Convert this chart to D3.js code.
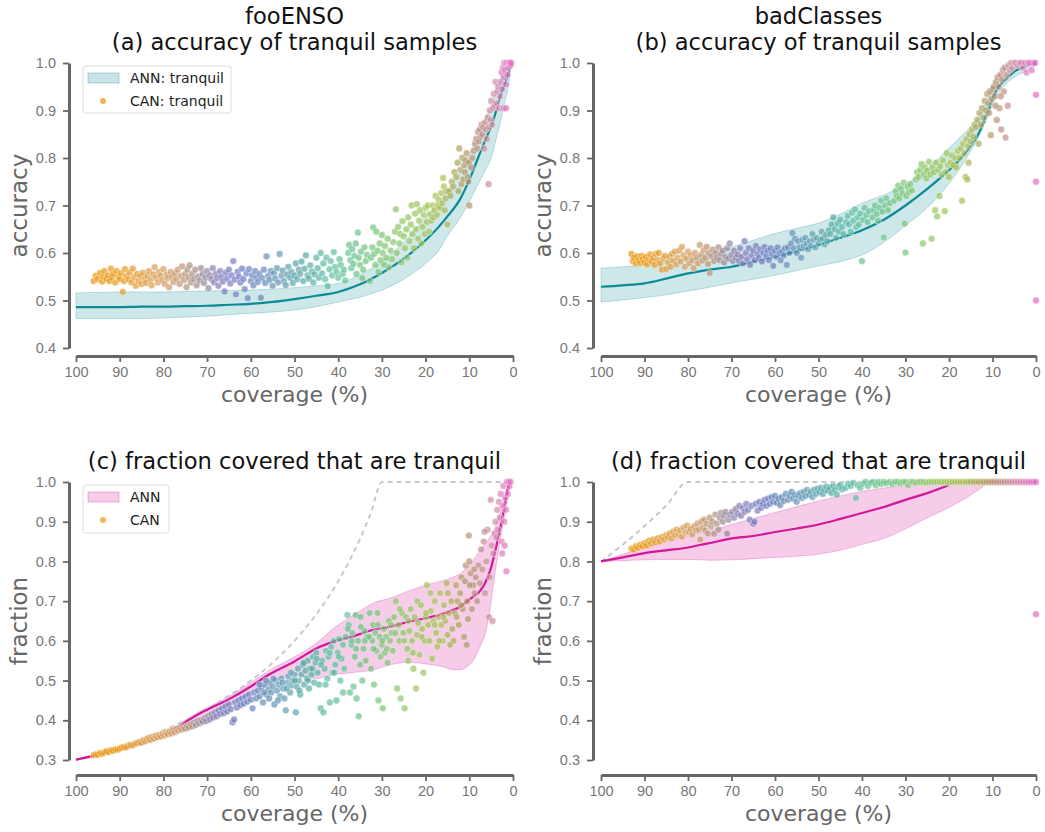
<!DOCTYPE html>
<html>
<head>
<meta charset="utf-8">
<script src="https://cdn.jsdelivr.net/npm/d3@7"></script>
<style>
body { margin: 0; background: #fff; }
svg { display: block; }
</style>
</head>
<body>
<svg id="chart" width="1045" height="832"></svg>
<script>
// coverage ticks and y ticks
const xTicks = [100, 90, 80, 70, 60, 50, 40, 30, 20, 10, 0];
const yTicksAcc = [0.4, 0.5, 0.6, 0.7, 0.8, 0.9, 1.0];
const yTicksFrac = [0.3, 0.4, 0.5, 0.6, 0.7, 0.8, 0.9, 1.0];

// point colour by coverage
const colorCov = [100, 90, 80, 75, 72, 67, 62, 57, 52, 47, 42, 37, 32, 27, 22, 17, 13, 10, 7, 4, 1, 0];
const colorHex = ["#e8900c", "#e8960f", "#d49a58", "#b89070", "#9a8890", "#7c78b8", "#6a78c0", "#5f88b5",
  "#5a9cb0", "#50aaa0", "#58bca0", "#62c08a", "#70c278", "#84c468", "#96c458", "#a6c050", "#a8a458",
  "#b09068", "#c08c88", "#d088a8", "#e070c0", "#e068c0"];

// ANN bands: [coverage, lower, mean, upper]
const bandA = [[100,0.462,0.486,0.516],[95,0.462,0.486,0.517],[90,0.462,0.486,0.518],[85,0.462,0.487,0.518],
  [80,0.463,0.487,0.518],[75,0.465,0.488,0.519],[70,0.467,0.489,0.52],[65,0.47,0.491,0.521],[60,0.473,0.493,0.522],
  [55,0.476,0.497,0.524],[50,0.48,0.503,0.527],[45,0.487,0.51,0.531],[40,0.497,0.518,0.536],[35,0.507,0.534,0.555],
  [30,0.522,0.558,0.582],[25,0.545,0.588,0.623],[20,0.578,0.627,0.675],[17,0.605,0.655,0.705],[15,0.636,0.677,0.73],
  [12,0.675,0.715,0.77],[10,0.708,0.754,0.805],[8,0.745,0.8,0.85],[6,0.78,0.845,0.89],[5,0.8,0.866,0.91],
  [4,0.835,0.895,0.935],[3,0.87,0.928,0.96],[2,0.915,0.955,0.985],[1,0.955,0.979,1.0],[0.7,0.975,0.99,1.0]];
const bandB = [[100,0.497,0.529,0.568],[95,0.501,0.532,0.571],[90,0.506,0.536,0.575],[85,0.512,0.546,0.582],
  [80,0.52,0.557,0.59],[75,0.528,0.565,0.6],[70,0.537,0.571,0.612],[65,0.545,0.582,0.627],[60,0.553,0.592,0.641],
  [55,0.563,0.604,0.652],[50,0.573,0.617,0.663],[45,0.582,0.632,0.682],[40,0.596,0.648,0.705],[35,0.622,0.67,0.722],
  [30,0.658,0.7,0.745],[25,0.695,0.735,0.778],[21,0.735,0.766,0.812],[17,0.785,0.802,0.848],[15,0.815,0.825,0.866],
  [13,0.848,0.855,0.89],[11,0.888,0.9,0.928],[9,0.932,0.945,0.958],[7,0.955,0.965,0.977],[5,0.97,0.982,0.99],
  [2,0.985,0.995,0.998],[0,0.996,1.0,1.0]];
const bandC = [[100,0.3,0.301,0.302],[90,0.323,0.326,0.329],[80,0.357,0.362,0.367],[72,0.405,0.415,0.42],
  [64,0.445,0.459,0.466],[60,0.47,0.485,0.495],[56,0.49,0.514,0.524],[50,0.515,0.548,0.56],[45,0.505,0.581,0.594],
  [41,0.515,0.598,0.632],[37,0.52,0.61,0.661],[32,0.527,0.628,0.695],[28,0.54,0.636,0.708],[24,0.546,0.648,0.725],
  [20,0.542,0.657,0.74],[16,0.535,0.668,0.752],[13.6,0.527,0.678,0.761],[12,0.527,0.686,0.77],[10.6,0.535,0.699,0.785],
  [9,0.552,0.712,0.805],[8,0.575,0.72,0.82],[6,0.635,0.755,0.85],[5,0.7,0.785,0.865],[4,0.78,0.83,0.89],
  [3,0.85,0.879,0.92],[2,0.91,0.935,0.955],[1.1,0.965,0.988,0.995],[0.5,1.0,1.0,1.0]];
const bandD = [[100,0.8,0.8,0.8],[95,0.802,0.81,0.818],[90,0.804,0.821,0.835],[85,0.805,0.828,0.85],
  [80,0.805,0.835,0.865],[77,0.804,0.842,0.873],[75,0.803,0.846,0.878],[70,0.804,0.858,0.893],[65,0.807,0.864,0.908],
  [60,0.81,0.874,0.923],[55,0.813,0.883,0.938],[50,0.818,0.893,0.952],[45,0.828,0.907,0.965],[40,0.843,0.922,0.976],
  [35,0.858,0.937,0.985],[30,0.882,0.955,0.991],[25,0.91,0.972,0.996],[21,0.93,0.988,0.999],[18.5,0.945,1.0,1.0],
  [16,0.96,1.0,1.0],[14,0.975,1.0,1.0],[12,0.99,1.0,1.0],[11,1.0,1.0,1.0],[0,1.0,1.0,1.0]];

// dashed reference curves: [coverage, fraction]
const idealC = [[100,0.3],[95,0.316],[90,0.333],[85,0.353],[80,0.375],[75,0.4],[70,0.429],[65,0.462],[60,0.5],
  [55,0.545],[50,0.6],[47.5,0.632],[45,0.667],[42.5,0.706],[40,0.75],[37.5,0.8],[35,0.857],[32.5,0.923],[30,1.0],[0,1.0]];
const idealD = [[100,0.8],[95,0.842],[90,0.889],[85,0.941],[80,1.0],[0,1.0]];

// CAN points: [coverage, value]
const pointsA = [[96,0.541],[95.5,0.552],[95,0.545],[94.5,0.558],[94,0.54],[93.8,0.55],[93.5,0.562],[93,0.545],
  [92.7,0.553],[92.3,0.541],[92,0.567],[91.8,0.548],[91.5,0.556],[91,0.538],[90.7,0.562],[90.3,0.55],[90,0.545],
  [89.7,0.557],[89.3,0.518],[89,0.541],[88.8,0.566],[88.5,0.552],[88,0.545],[87.7,0.559],[87.3,0.538],[87,0.567],
  [86.7,0.549],[86.3,0.531],[86,0.556],[85.7,0.541],[85.3,0.552],[85,0.535],
  [84.7,0.558],[84.3,0.545],[84,0.537],[83.7,0.552],[83.3,0.562],[83,0.543],[82.7,0.532],[82.3,0.555],[82,0.57],
  [81.7,0.548],[81.3,0.538],[81,0.56],[80.7,0.552],[80.3,0.543],[80,0.566],[79.7,0.535],[79.3,0.555],[79,0.547],
  [78.7,0.528],[78.3,0.56],[78,0.55],[77.7,0.539],[77.3,0.557],[77,0.545],[76.7,0.565],[76.3,0.535],[76,0.552],
  [75.7,0.572],[75.3,0.543],[75,0.556],
  [74.7,0.528],[74.5,0.565],[74.2,0.548],[74,0.574],[73.7,0.538],[73.4,0.556],[73,0.545],[72.7,0.565],[72.4,0.532],
  [72,0.551],[71.7,0.542],[71.4,0.568],[71,0.556],[70.7,0.537],[70.4,0.548],[70,0.562],
  [69.7,0.526],[69.4,0.553],[69,0.545],[68.7,0.568],[68.4,0.538],[68,0.556],[67.7,0.547],[67.4,0.531],[67,0.562],
  [66.7,0.55],[66.4,0.54],[66,0.519],[65.7,0.558],[65.4,0.546],[65,0.565],[64.7,0.536],[64.4,0.553],[64,0.583],
  [63.7,0.544],[63.4,0.513],[63,0.56],[62.7,0.55],[62.4,0.538],[62,0.567],
  [61.7,0.545],[61.4,0.524],[61,0.557],[60.7,0.505],[60.4,0.566],[60,0.541],[59.7,0.553],[59.4,0.532],[59,0.562],
  [58.7,0.548],[58.4,0.539],[58,0.556],[57.7,0.506],[57.4,0.547],[57,0.565],[56.7,0.537],[56.4,0.593],[56,0.552],
  [55.7,0.543],[55.4,0.562],[55,0.531],
  [54.7,0.557],[54.4,0.546],[54,0.568],[53.7,0.538],[53.4,0.598],[53,0.552],[52.7,0.563],[52.4,0.541],[52,0.532],
  [51.7,0.555],[51.4,0.571],[51,0.548],[50.7,0.56],[50.4,0.537],[50,0.553],[49.7,0.578],[49.4,0.545],[49,0.565],
  [48.7,0.556],[48.4,0.582],[48,0.541],[47.7,0.567],[47.4,0.595],[47,0.553],[46.7,0.546],[46.4,0.574],[46,0.561],
  [45.7,0.538],[45.4,0.555],[45,0.59],
  [44.7,0.568],[44.4,0.548],[44,0.6],[43.7,0.557],[43.4,0.578],[43,0.545],[42.7,0.59],[42.4,0.53],[42,0.566],
  [41.7,0.583],[41.4,0.553],[41,0.602],[40.7,0.571],[40.4,0.56],[40,0.548],[39.7,0.587],[39.4,0.575],[39,0.556],
  [38.7,0.565],[38.4,0.542],
  [37.7,0.6],[37.5,0.617],[37.2,0.585],[37,0.568],[36.8,0.608],[36.5,0.577],[36.3,0.594],[36,0.62],[35.8,0.556],
  [35.5,0.643],[35.3,0.59],[35,0.575],[34.8,0.603],[34.5,0.547],[34.3,0.565],[34,0.612],[33.7,0.583],[33.4,0.596],
  [32.7,0.541],[32.5,0.59],[32.2,0.612],[32,0.654],[31.8,0.598],[31.5,0.575],[31.3,0.645],[31,0.605],[30.8,0.56],
  [30.5,0.62],[30.3,0.585],[30,0.638],[29.8,0.6],[29.5,0.575],[29.3,0.615],[29,0.59],[28.7,0.63],[28.4,0.57],
  [28,0.605],[27.7,0.587],[27.4,0.623],[27,0.645],
  [26.8,0.692],[26.6,0.6],[26.3,0.655],[26,0.62],[25.8,0.64],[25.5,0.58],[25.3,0.667],[25,0.635],[24.7,0.61],
  [24.4,0.65],[24.2,0.59],[24,0.675],[23.7,0.625],[23.4,0.66],[23.2,0.7],[23,0.64],[22.7,0.61],[22.4,0.683],
  [22.2,0.65],[22,0.703],[21.7,0.63],[21.5,0.668],[21.3,0.69],[21,0.62],[20.7,0.655],[20.4,0.68],[20.2,0.64],[20,0.695],
  [19.7,0.665],[19.5,0.7],[19.2,0.645],[19,0.682],[18.7,0.668],[18.4,0.7],[18.2,0.675],[18,0.69],[17.7,0.72],
  [17.4,0.68],[17.2,0.7],[17,0.712],[16.7,0.695],[16.4,0.726],[16.2,0.705],[16,0.758],[15.8,0.74],[15.6,0.69],
  [15.4,0.715],[15.2,0.73],[15,0.66],
  [14.6,0.73],[14.3,0.72],[14,0.75],[13.7,0.74],[13.4,0.77],[13,0.76],[12.7,0.79],[12.5,0.73],[12.3,0.82],[12,0.775],
  [11.8,0.745],[11.6,0.8],[11.4,0.755],[11.2,0.785],[11,0.77],[10.8,0.795],[10.6,0.81],[10.4,0.76],[10.2,0.75],
  [10,0.7],[10.1,0.79],
  [9.6,0.78],[9.3,0.8],[9,0.815],[8.7,0.83],[8.4,0.84],[8.2,0.82],[8,0.855],[7.8,0.835],[7.6,0.86],[7.4,0.845],
  [7.2,0.87],[7,0.85],[6.8,0.865],[6.6,0.82],[6.4,0.875],[6.2,0.86],[6,0.84],[5.8,0.885],[5.6,0.745],[5.5,0.865],
  [5.3,0.9],[5.1,0.88],[5,0.92],[4.8,0.87],[4.6,0.905],[4.4,0.935],[4.2,0.91],[4,0.96],[3.8,0.915],[3.6,0.94],
  [3.4,0.95],[3.2,0.905],[3,0.93],
  [2.8,0.96],[2.6,0.98],[2.5,0.945],[2.3,0.99],[2.1,0.97],[2,1.0],[1.8,0.985],[1.6,0.955],[1.5,1.0],[1.3,0.975],
  [1.1,0.99],[1,1.0],[0.8,1.0],[0.6,0.995],[0.4,1.0],[2.2,0.905],[1.6,0.905]];

const pointsB = [[93,0.598],[92.7,0.583],[92.4,0.59],[92,0.578],[91.7,0.593],[91.4,0.585],[91,0.579],[90.7,0.594],
  [90.4,0.587],[90,0.58],[89.7,0.592],[89.4,0.576],[89,0.586],[88.7,0.597],[88.4,0.582],[88,0.59],[87.7,0.575],
  [87.4,0.598],[87,0.585],[86.7,0.6],[86.4,0.578],[86,0.565],[85.7,0.588],[85.3,0.594],[85,0.566],
  [84.6,0.58],[84.3,0.592],[84,0.571],[83.7,0.598],[83.4,0.584],[83,0.603],[82.7,0.576],[82.4,0.59],[82,0.605],
  [81.7,0.582],[81.4,0.613],[81,0.595],[80.7,0.571],[80.4,0.588],[80,0.603],[79.7,0.578],[79.4,0.596],[79,0.585],
  [78.7,0.568],[78.4,0.6],[78,0.59],[77.7,0.578],[77.3,0.617],[77,0.596],[76.7,0.584],[76.4,0.606],[76,0.59],
  [75.7,0.613],[75.4,0.577],[75,0.558],[75.2,0.6],
  [74.6,0.593],[74.3,0.607],[74,0.583],[73.7,0.6],[73.4,0.59],[73,0.612],[72.7,0.585],[72.4,0.598],[72,0.605],
  [71.7,0.58],[71.4,0.592],[71,0.61],[70.7,0.588],[70.4,0.62],[70,0.596],[69.7,0.583],[69.4,0.605],[69,0.59],
  [68.6,0.597],[68.3,0.583],[68,0.61],[67.7,0.592],[67.4,0.578],[67,0.625],[66.7,0.6],[66.4,0.587],[66,0.61],
  [65.7,0.575],[65.4,0.595],[65,0.605],[64.7,0.585],[64.4,0.615],[64,0.598],[63.7,0.59],[63.4,0.608],[63,0.582],
  [62.7,0.6],[62.4,0.613],
  [62,0.593],[61.7,0.605],[61.4,0.585],[61,0.61],[60.7,0.598],[60.4,0.573],[60,0.605],[59.7,0.592],[59.4,0.612],
  [59,0.6],[58.7,0.585],[58.4,0.603],[58,0.595],[57.7,0.61],[57.3,0.575],[57,0.612],[56.7,0.6],
  [56.3,0.62],[56,0.642],[55.7,0.61],[55.4,0.63],[55,0.6],[54.7,0.625],[54.4,0.612],[54,0.59],[53.7,0.628],
  [53.4,0.615],[53,0.632],[52.7,0.62],[52.4,0.608],[52,0.625],[51.7,0.615],[51.4,0.64],[51,0.628],[50.7,0.612],
  [50.4,0.632],[50,0.62],
  [49.6,0.628],[49.3,0.645],[49,0.63],[48.6,0.618],[48.3,0.638],[48,0.625],[47.6,0.648],[47.3,0.64],[47,0.66],
  [46.6,0.675],[46.3,0.65],[46,0.632],[45.6,0.662],[45.3,0.645],[45,0.67],[44.6,0.655],[44.3,0.64],
  [43.6,0.665],[43.3,0.678],[43,0.66],[42.6,0.645],[42.3,0.685],[42,0.668],[41.6,0.692],[41.3,0.655],[41,0.675],
  [40.7,0.66],[40.4,0.683],[40,0.583],[39.7,0.67],[39.4,0.695],[39,0.68],[38.7,0.665],[38.4,0.688],
  [37.6,0.675],[37.3,0.69],[37,0.7],[36.6,0.682],[36.3,0.668],[36,0.695],[35.6,0.71],[35.3,0.687],[35,0.633],
  [34.7,0.7],[34.4,0.715],[34,0.69],[33.6,0.705],
  [32.6,0.71],[32.3,0.73],[32,0.72],[31.7,0.742],[31.4,0.715],[31,0.735],[30.7,0.725],[30.4,0.748],[30,0.601],
  [30.2,0.662],[29.8,0.72],[29.5,0.74],[29.2,0.728],[28.9,0.745],[28.5,0.732],
  [27.6,0.755],[27.3,0.77],[27,0.76],[26.6,0.775],[26.3,0.787],[26,0.62],[25.8,0.765],[25.5,0.78],[25.2,0.757],
  [25,0.773],[24.6,0.792],[24.3,0.765],[24,0.63],[23.8,0.78],[23.5,0.77],[23.2,0.69],[23,0.79],[22.7,0.677],
  [22.5,0.775],[22.2,0.72],[22,0.783],[21.7,0.765],[21.4,0.795],[21,0.688],[20.8,0.77],[20.5,0.81],[20.2,0.785],[20,0.76],
  [19.6,0.79],[19.3,0.805],[19,0.785],[18.6,0.8],[18.3,0.78],[18,0.815],[17.6,0.8],[17.3,0.82],[17,0.71],
  [16.8,0.83],[16.5,0.81],[16.2,0.76],[16,0.84],[15.8,0.755],[15.6,0.825],[15.3,0.85],[15,0.835],[14.7,0.86],
  [14.4,0.845],[14.1,0.87],[15.5,0.79],
  [13.8,0.865],[13.5,0.88],[13.2,0.83],[13,0.895],[12.7,0.87],[12.4,0.905],[12.1,0.885],[11.8,0.92],[11.5,0.9],
  [11.2,0.935],[11,0.915],[10.8,0.895],[10.6,0.94],[10.4,0.848],[10.2,0.925],[10,0.945],
  [9.7,0.95],[9.5,0.93],[9.2,0.96],[9,0.88],[8.8,0.97],[8.6,0.95],[8.4,0.905],[8.2,0.975],[8,0.86],[7.8,0.965],
  [7.6,0.985],[7.4,0.94],[7.2,0.99],[7,0.843],[6.8,0.975],[6.5,0.91],[6.3,0.995],[6,0.985],[5.7,1.0],[5.4,0.99],
  [9.3,0.91],[8.1,0.93],
  [5,1.0],[4.6,1.0],[4.2,0.995],[3.8,1.0],[3.4,1.0],[3,0.99],[2.6,1.0],[2.2,0.98],[1.8,1.0],[1.4,1.0],[1,0.985],
  [0.6,1.0],[0.2,1.0],[0,0.933],[0,0.75],[0,0.5]];

const pointsC = [[96,0.312],[95.5,0.314],[95,0.313],[94.5,0.318],[94,0.316],[93.5,0.319],[93,0.322],[92.5,0.32],
  [92,0.325],[91.5,0.323],[91,0.327],[90.5,0.326],[90,0.329],[89.5,0.331],[89,0.333],[88.5,0.332],[88,0.336],
  [87.5,0.338],[87,0.337],[86.5,0.341],[86,0.343],[85.5,0.345],[85,0.344],
  [84.6,0.35],[84.2,0.347],[83.8,0.352],[83.4,0.355],[83,0.351],[82.6,0.358],[82.2,0.354],[81.8,0.36],[81.4,0.357],
  [81,0.363],[80.6,0.359],[80.2,0.366],[79.8,0.362],[79.4,0.368],[79,0.365],[78.6,0.372],[78.2,0.367],[77.8,0.375],
  [77.4,0.37],[77,0.378],[76.6,0.374],[76.2,0.38],
  [75.8,0.377],[75.4,0.383],[75,0.379],[74.6,0.386],[74.2,0.382],[73.8,0.39],[73.4,0.385],[73,0.394],[72.6,0.388],
  [72.2,0.398],[71.8,0.392],[71.4,0.4],[71,0.396],[70.6,0.405],[70.2,0.398],
  [69.8,0.41],[69.4,0.402],[69,0.415],[68.6,0.407],[68.2,0.42],[67.8,0.41],[67.4,0.425],[67,0.416],[66.6,0.43],
  [66.2,0.418],[65.8,0.435],[65.4,0.422],[65,0.44],[64.6,0.428],[64.2,0.395],[63.8,0.402],[63.6,0.445],[63.2,0.432],
  [62.8,0.45],[62.4,0.438],
  [62,0.455],[61.6,0.442],[61.2,0.46],[60.8,0.447],[60.4,0.465],[60,0.452],[59.6,0.43],[59.2,0.47],[58.8,0.455],
  [58.4,0.475],[58,0.46],[57.6,0.482],[57.2,0.445],[56.8,0.49],[56.4,0.465],[56,0.478],
  [55.6,0.495],[55.3,0.47],[55,0.485],[54.6,0.44],[54.3,0.5],[54,0.475],[53.6,0.49],[53.3,0.46],[53,0.505],
  [52.6,0.48],[52.3,0.455],[52,0.425],[51.7,0.495],[51.4,0.51],[51,0.47],[50.7,0.488],[50.4,0.5],[50,0.515],
  [49.7,0.42],[49.5,0.485],[49.2,0.53],[49,0.5],[48.7,0.465],[48.4,0.515],[48.1,0.54],[47.8,0.49],[47.5,0.525],
  [47.2,0.505],[47,0.55],[46.7,0.48],[46.4,0.53],[46.1,0.515],[45.8,0.56],[45.5,0.495],[45.2,0.545],[45,0.57],
  [44.7,0.52],[44.4,0.49],
  [44,0.43],[43.7,0.55],[43.4,0.42],[43.1,0.53],[42.8,0.575],[42.5,0.505],[42.2,0.56],[41.9,0.445],[41.6,0.585],
  [41.3,0.52],[41,0.6],[40.7,0.54],[40.4,0.45],[40.1,0.57],[39.8,0.605],[39.5,0.5],[39.2,0.555],[38.9,0.59],
  [38.6,0.53],[38.3,0.61],
  [37.9,0.665],[37.6,0.64],[37.3,0.47],[37,0.59],[36.8,0.62],[36.5,0.485],[36.2,0.56],[36,0.665],[35.8,0.455],
  [35.5,0.6],[35.3,0.41],[35,0.54],[34.8,0.635],[34.5,0.5],[34.2,0.58],[34,0.625],[33.7,0.55],[33.4,0.61],
  [32.8,0.67],[32.5,0.53],[32.2,0.6],[32,0.64],[31.8,0.49],[31.5,0.62],[31.3,0.575],[31,0.67],[30.8,0.45],
  [30.5,0.61],[30.3,0.56],[30,0.59],[29.8,0.43],[29.5,0.63],[29.3,0.57],[29,0.61],[28.7,0.545],[28.4,0.65],
  [28.1,0.6],[27.8,0.62],[27.5,0.575],[27.2,0.66],
  [26.8,0.7],[26.5,0.48],[26.2,0.64],[26,0.6],[25.7,0.455],[25.4,0.67],[25.1,0.62],[24.8,0.43],[24.5,0.66],
  [24.2,0.58],[24,0.55],[23.7,0.625],[23.4,0.68],[23.1,0.6],[22.8,0.53],[22.5,0.66],[22.2,0.48],[22,0.615],
  [21.7,0.645],[21.4,0.565],[21.1,0.69],[20.8,0.63],[20.5,0.52],[20.2,0.6],[20,0.66],
  [19.7,0.74],[19.4,0.64],[19.1,0.6],[18.8,0.675],[18.5,0.555],[18.2,0.65],[17.9,0.7],[17.6,0.62],[17.3,0.585],
  [17,0.66],[16.7,0.72],[16.4,0.64],[16.1,0.6],[15.8,0.69],[15.5,0.65],[15.2,0.745],[15,0.615],[14.7,0.67],
  [14.4,0.59],[14.1,0.7],
  [13.6,0.6],[13.3,0.67],[13,0.74],[12.7,0.7],[12.4,0.64],[12.1,0.72],[11.8,0.76],[11.5,0.68],[11.2,0.61],
  [11,0.75],[10.8,0.79],[10.5,0.7],[10.3,0.655],[10.1,0.865],[10,0.8],[10.6,0.59],
  [9.7,0.77],[9.4,0.68],[9.1,0.74],[8.8,0.72],[8.5,0.76],[8.2,0.7],[7.9,0.79],[7.6,0.745],[7.3,0.83],[7,0.78],
  [6.7,0.85],[6.4,0.72],[6.1,0.8],[5.8,0.88],[5.5,0.66],[5.3,0.76],[5.1,0.955],[4.9,0.84],[4.7,0.65],[6.5,0.875],
  [4.5,0.82],[4.2,0.87],[4,0.9],[3.8,0.86],[3.6,0.93],[3.4,0.88],[3.2,0.95],[3,0.91],[2.8,0.97],[2.6,0.85],
  [2.4,0.94],[2.2,0.99],[2,0.9],[1.8,0.96],[1.6,0.93],[1.5,0.775],[1.4,1.0],[1.2,0.97],[1,1.0],[0.8,0.99],
  [0.6,1.0],[2.5,0.82],[1.9,0.84],
  [58,0.49],[57,0.47],[56.5,0.5],[55.8,0.455],[54.8,0.505],[53.8,0.45],[52.8,0.495],[51.8,0.48],[50.8,0.52],
  [49.9,0.5],[48.9,0.475],[47.9,0.545],[46.9,0.5],[45.9,0.53],[44.9,0.555],[43.9,0.54],[42.9,0.49],[41.9,0.57],
  [40.9,0.52],[39.9,0.56],[38.9,0.47],[37.8,0.63],[36.9,0.6],[35.9,0.58],[34.9,0.66],[33.9,0.6],[32.9,0.61],
  [31.9,0.58],[30.9,0.64],[29.9,0.6],[28.9,0.58],[27.9,0.64],[26.9,0.62],[25.9,0.68],[24.9,0.6],[23.9,0.65],
  [22.9,0.57],[21.9,0.7],[20.9,0.61],[19.9,0.67],[18.9,0.72],[17.9,0.64],[16.9,0.6],[15.9,0.66],[14.9,0.72],
  [13.9,0.63],[12.9,0.66],[11.9,0.69],[9.9,0.74],[8.9,0.78]];

const pointsD = [[93,0.832],[92.5,0.83],[92,0.838],[91.5,0.835],[91,0.842],[90.5,0.838],[90,0.846],[89.5,0.84],
  [89,0.852],[88.5,0.845],[88,0.855],[87.5,0.848],[87,0.858],[86.5,0.85],[86,0.862],[85.5,0.855],[85,0.866],
  [84.6,0.86],[84.2,0.87],[83.8,0.858],[83.4,0.875],[83,0.865],[82.6,0.88],[82.2,0.868],[81.8,0.878],[81.4,0.862],
  [81,0.885],[80.6,0.872],[80.2,0.89],[79.8,0.875],[79.4,0.882],[79,0.868],[78.6,0.888],[78.2,0.878],
  [77.8,0.895],[77.5,0.88],[77.2,0.855],[76.9,0.9],[76.6,0.885],[76.3,0.905],[76,0.878],[75.7,0.895],[75.4,0.87],
  [75,0.91],[74.7,0.888],[74.4,0.9],[74,0.87],[73.7,0.918],[73.4,0.895],[73,0.88],[72.7,0.91],[72.4,0.922],
  [72,0.9],[71.7,0.915],[71.4,0.925],[71,0.87],[70.7,0.905],[70.4,0.918],
  [69.8,0.925],[69.4,0.91],[69,0.932],[68.6,0.92],[68.2,0.94],[67.8,0.915],[67.4,0.935],[67,0.925],[66.6,0.945],
  [66.2,0.93],[65.8,0.905],[65.4,0.94],[65,0.895],[64.7,0.9],[64.4,0.945],[64,0.928],[63.6,0.95],[63.2,0.935],
  [62.8,0.945],[62.4,0.955],
  [62,0.94],[61.6,0.958],[61.2,0.945],[60.8,0.962],[60.4,0.95],[60,0.965],[59.6,0.948],[59.2,0.958],[58.8,0.942],
  [58.4,0.962],[58,0.952],
  [57.5,0.97],[57,0.955],[56.6,0.965],[56.2,0.975],[55.8,0.958],[55.4,0.968],[55,0.95],[54.6,0.965],[54.2,0.972],
  [53.8,0.96],[53.4,0.975],[53,0.965],[52.6,0.98],[52.2,0.968],[51.8,0.975],[51.4,0.962],[51,0.98],[50.6,0.97],
  [50.2,0.983],
  [49.8,0.975],[49.4,0.985],[49,0.97],[48.6,0.98],[48.2,0.988],[47.8,0.978],[47.4,0.985],[47,0.972],[46.6,0.99],
  [46.2,0.98],[45.8,0.968],[45.4,0.988],[45,0.992],[44.6,0.982],
  [43.8,0.985],[43.2,0.995],[42.6,0.99],[42,0.998],[41.4,0.96],[41,0.992],[40.4,0.985],[39.8,0.995],[39.2,1.0],
  [38.6,0.99],[38,0.998],[37.4,1.0],[36.8,0.992],[36.2,1.0],[35.6,0.995],[35,1.0],[34.4,0.997],
  [33.6,1.0],[33,0.995],[32.4,1.0],[31.8,1.0],[31.2,0.997],[30.6,1.0],[30,1.0],[29.4,0.992],[28.8,1.0],[28.2,1.0],
  [27.6,0.998],[27,1.0],[26.4,1.0],[25.8,1.0],[25.2,0.998],[24.6,1.0],[24,1.0],[23.4,1.0],[22.8,1.0],[22.2,1.0],
  [21.6,1.0],[21,1.0],[20.4,1.0],[19.8,1.0],[19.2,1.0],[18.6,1.0],[18,1.0],[17.4,1.0],[16.8,1.0],[16.2,1.0],
  [15.6,1.0],[15,1.0],[14.4,1.0],[13.8,1.0],[13.2,1.0],[12.6,1.0],[12,1.0],[11.4,1.0],[10.8,1.0],[10.2,1.0],
  [9.6,1.0],[9,1.0],[8.4,1.0],[7.8,1.0],[7.2,1.0],[6.6,1.0],[6,1.0],[5.4,1.0],[4.8,1.0],[4.2,1.0],[3.6,1.0],
  [3,1.0],[2.4,1.0],[1.8,1.0],[1.2,1.0],[0.6,1.0],[0,1.0],[0,0.667]];

const teal = "#0a8a96";
const pink = "#d4179a";
const spineColor = "#666";
const labelFont = "DejaVu Sans, sans-serif";
const tickFont = "Liberation Sans, Arial, sans-serif";

const colorOf = d3.scaleLinear().domain(colorCov).range(colorHex).interpolate(d3.interpolateRgb);

const panels = [
  {title: ["fooENSO", "(a) accuracy of tranquil samples"], ylabel: "accuracy", yTicks: yTicksAcc,
   xr: [76, 513], yr: [348, 63], axisX: 69, axisY: 356, band: bandA, points: pointsA, color: teal,
   legend: ["ANN: tranquil", "CAN: tranquil"], legendBox: [83, 66, 148, 47]},
  {title: ["badClasses", "(b) accuracy of tranquil samples"], ylabel: "accuracy", yTicks: yTicksAcc,
   xr: [601, 1036], yr: [348, 63], axisX: 593, axisY: 356, band: bandB, points: pointsB, color: teal},
  {title: ["(c) fraction covered that are tranquil"], ylabel: "fraction", yTicks: yTicksFrac,
   xr: [76, 513], yr: [760, 482], axisX: 69, axisY: 775, band: bandC, points: pointsC, color: pink,
   ideal: idealC, legend: ["ANN", "CAN"], legendBox: [83, 485, 86, 48]},
  {title: ["(d) fraction covered that are tranquil"], ylabel: "fraction", yTicks: yTicksFrac,
   xr: [601, 1036], yr: [760, 482], axisX: 593, axisY: 775, band: bandD, points: pointsD, color: pink,
   ideal: idealD}
];

const svg = d3.select("#chart");

const drawPanel = (p) =>
{
    const x = d3.scaleLinear().domain([100, 0]).range(p.xr);
    const y = d3.scaleLinear().domain([p.yTicks[0], 1.0]).range(p.yr);
    const g = svg.append("g");

    // ANN band + mean
    const area = d3.area().x(d => x(d[0])).y0(d => y(d[1])).y1(d => y(d[3])).curve(d3.curveMonotoneX);
    g.append("path")
        .attr("d", area(p.band))
        .attr("fill", p.color)
        .attr("fill-opacity", p.color === teal ? 0.2 : 0.22)
        .attr("stroke", p.color)
        .attr("stroke-opacity", 0.25)
        .attr("stroke-width", 1);

    if (p.ideal)
    {
        g.append("path")
            .attr("d", d3.line().x(d => x(d[0])).y(d => y(d[1])).curve(d3.curveMonotoneX)(p.ideal))
            .attr("fill", "none")
            .attr("stroke", "#c8c8c8")
            .attr("stroke-width", 2)
            .attr("stroke-dasharray", "5,4");
    }

    g.append("path")
        .attr("d", d3.line().x(d => x(d[0])).y(d => y(d[2])).curve(d3.curveMonotoneX)(p.band))
        .attr("fill", "none")
        .attr("stroke", p.color)
        .attr("stroke-width", 2.2);

    // CAN points
    g.append("g").selectAll("circle")
        .data(p.points)
        .join("circle")
        .attr("cx", d => x(d[0]))
        .attr("cy", d => y(d[1]))
        .attr("r", 3.4)
        .attr("fill", d => colorOf(d[0]))
        .attr("fill-opacity", 0.68)
        .attr("stroke", "#fff")
        .attr("stroke-opacity", 0.7)
        .attr("stroke-width", 0.6);

    // axes
    const yAxis = g.append("g")
        .attr("transform", `translate(${p.axisX},0)`)
        .call(d3.axisLeft(y).tickValues(p.yTicks).tickFormat(d3.format(".1f")).tickSize(6).tickSizeOuter(0).tickPadding(7));
    const xAxis = g.append("g")
        .attr("transform", `translate(0,${p.axisY})`)
        .call(d3.axisBottom(x).tickValues(xTicks).tickFormat(d3.format("d")).tickSize(6).tickSizeOuter(0).tickPadding(5));
    [yAxis, xAxis].forEach(a =>
    {
        a.select(".domain").attr("stroke", spineColor).attr("stroke-width", 3);
        a.selectAll(".tick line").attr("stroke", spineColor).attr("stroke-width", 1.8);
        a.selectAll(".tick text").attr("fill", "#777").attr("font-family", tickFont).attr("font-size", 14.5);
    });

    // labels
    const cx = (p.xr[0] + p.xr[1]) / 2;
    const cy = (p.yr[0] + p.yr[1]) / 2;
    g.append("text")
        .text("coverage (%)")
        .attr("x", cx)
        .attr("y", p.axisY + 45.5)
        .attr("text-anchor", "middle")
        .attr("font-family", labelFont)
        .attr("font-size", 22)
        .attr("fill", spineColor);
    g.append("text")
        .text(p.ylabel)
        .attr("transform", `translate(${p.axisX - 42},${cy}) rotate(-90)`)
        .attr("text-anchor", "middle")
        .attr("font-family", labelFont)
        .attr("font-size", 23)
        .attr("fill", spineColor);

    const titleBase = p.yr[1] - 13;
    p.title.forEach((t, i) =>
    {
        g.append("text")
            .text(t)
            .attr("x", cx)
            .attr("y", titleBase - (p.title.length - 1 - i) * 26)
            .attr("text-anchor", "middle")
            .attr("font-family", labelFont)
            .attr("font-size", 22.6)
            .attr("fill", "#111");
    });

    if (p.legend) drawLegend(g, p);
}

const drawLegend = (g, p) =>
{
    const [lx, ly, lw, lh] = p.legendBox;
    const lg = g.append("g");
    lg.append("rect")
        .attr("x", lx).attr("y", ly)
        .attr("width", lw).attr("height", lh)
        .attr("rx", 3)
        .attr("fill", "#fff")
        .attr("fill-opacity", 0.85)
        .attr("stroke", "#dcdcdc")
        .attr("stroke-width", 1);
    lg.append("rect")
        .attr("x", lx + 5).attr("y", ly + 7)
        .attr("width", 31).attr("height", 10)
        .attr("fill", p.color)
        .attr("fill-opacity", 0.22)
        .attr("stroke", p.color)
        .attr("stroke-opacity", 0.3);
    lg.append("circle")
        .attr("cx", lx + 20).attr("cy", ly + 35)
        .attr("r", 3)
        .attr("fill", colorOf(95))
        .attr("fill-opacity", 0.7);
    p.legend.forEach((t, i) =>
    {
        lg.append("text")
            .text(t)
            .attr("x", lx + 47)
            .attr("y", ly + 12 + i * 23)
            .attr("dy", "0.36em")
            .attr("font-family", labelFont)
            .attr("font-size", 14)
            .attr("fill", "#222");
    });
}

panels.forEach(drawPanel);
</script>
</body>
</html>
